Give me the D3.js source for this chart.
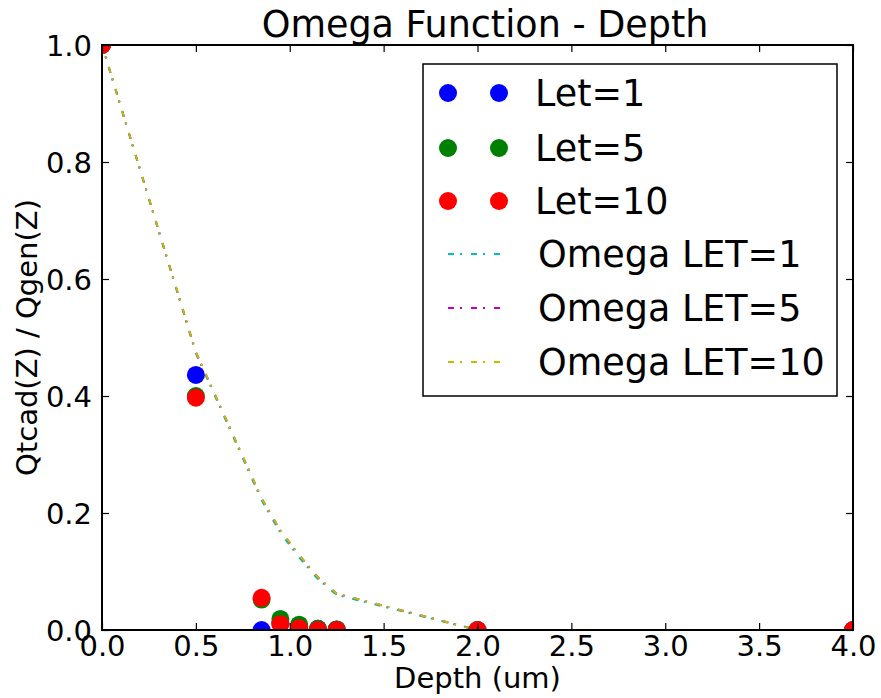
<!DOCTYPE html>
<html>
<head>
<meta charset="utf-8">
<script src="https://cdn.jsdelivr.net/npm/d3@7"></script>
<style>
  html, body { margin: 0; padding: 0; background: #fff; }
  svg text { font-family: "DejaVu Sans", sans-serif; fill: #000; }
</style>
</head>
<body>
<svg id="chart" width="881" height="698"></svg>
<script>
// Depth sample points (um)
const depth = [0, 0.5, 0.85, 0.95, 1.05, 1.15, 1.25, 2.0, 4.0];

// Simulated collected-charge ratio Qtcad(Z)/Qgen(Z) per LET
const let1  = [1.0, 0.436, 0.0,   0.012, 0.006, 0.002, 0.001, 0.0, 0.0];
const let5  = [1.0, 0.400, 0.052, 0.019, 0.009, 0.002, 0.001, 0.0, 0.0];
const let10 = [1.0, 0.397, 0.055, 0.010, 0.003, 0.000, 0.000, 0.0, 0.0];

// Omega model curves per LET
const omega1  = [1.0, 0.473, 0.222, 0.166, 0.124, 0.087, 0.060, 0.0, 0.0];
const omega5  = [1.0, 0.475, 0.225, 0.170, 0.128, 0.090, 0.062, 0.0, 0.0];
const omega10 = [1.0, 0.475, 0.225, 0.170, 0.128, 0.090, 0.062, 0.0, 0.0];

const xTicks = [0, 0.5, 1.0, 1.5, 2.0, 2.5, 3.0, 3.5, 4.0];
const yTicks = [0, 0.2, 0.4, 0.6, 0.8, 1.0];

const pointSeries = [
  { name: "Let=1",  values: let1,  color: "#0000ff" },
  { name: "Let=5",  values: let5,  color: "#008000" },
  { name: "Let=10", values: let10, color: "#ff0000" }
];
const lineSeries = [
  { name: "Omega LET=1",  values: omega1,  color: "#00bfbf" },
  { name: "Omega LET=5",  values: omega5,  color: "#bf00bf" },
  { name: "Omega LET=10", values: omega10, color: "#bfbf00" }
];

const svg = d3.select("#chart");
const plot = { left: 102, right: 853, top: 45, bottom: 630 };

const x = d3.scaleLinear().domain([0, 4]).range([plot.left, plot.right]);
const y = d3.scaleLinear().domain([0, 1]).range([plot.bottom, plot.top]);

svg.append("defs").append("clipPath").attr("id", "plotClip")
  .append("rect")
  .attr("x", plot.left).attr("y", plot.top)
  .attr("width", plot.right - plot.left).attr("height", plot.bottom - plot.top);

const dashStyle = "6,6,2,9";
const R = 9;

// Omega model lines (dash-dot)
const lineGen = d3.line().x((d, i) => x(depth[i])).y(d => y(d));
const dataLayer = svg.append("g").attr("clip-path", "url(#plotClip)");
lineSeries.forEach(s => {
  dataLayer.append("path")
    .attr("d", lineGen(s.values))
    .attr("fill", "none")
    .attr("stroke", s.color)
    .attr("stroke-width", 2)
    .attr("stroke-dasharray", dashStyle);
});

// Simulation points
pointSeries.forEach(s => {
  dataLayer.selectAll(null)
    .data(s.values)
    .enter().append("circle")
    .attr("cx", (d, i) => x(depth[i]))
    .attr("cy", d => y(d))
    .attr("r", R)
    .attr("fill", s.color);
});

// Axes: ticks pointing inward on all four sides
const tickLen = 7;
const axisBottom = d3.axisBottom(x).tickValues(xTicks).tickFormat(d3.format(".1f"))
  .tickSizeInner(-tickLen).tickSizeOuter(0).tickPadding(5);
const axisTop = d3.axisTop(x).tickValues(xTicks).tickFormat("")
  .tickSizeInner(-tickLen).tickSizeOuter(0);
const axisLeft = d3.axisLeft(y).tickValues(yTicks).tickFormat(d3.format(".1f"))
  .tickSizeInner(-tickLen).tickSizeOuter(0).tickPadding(10);
const axisRight = d3.axisRight(y).tickValues(yTicks).tickFormat("")
  .tickSizeInner(-tickLen).tickSizeOuter(0);

function styleAxis(g) {
  g.select(".domain").remove();
  g.selectAll(".tick line").attr("stroke", "#000").attr("stroke-width", 1.2);
  g.selectAll(".tick text")
    .style("font-family", "'DejaVu Sans', sans-serif")
    .style("font-size", "29px").attr("fill", "#000");
}

svg.append("g").attr("transform", `translate(0,${plot.bottom})`).call(axisBottom).call(styleAxis);
svg.append("g").attr("transform", `translate(0,${plot.top})`).call(axisTop).call(styleAxis);
svg.append("g").attr("transform", `translate(${plot.left},0)`).call(axisLeft).call(styleAxis)
  .selectAll(".tick text").attr("dy", "0.36em");
svg.append("g").attr("transform", `translate(${plot.right},0)`).call(axisRight).call(styleAxis);

// Plot frame
svg.append("rect")
  .attr("x", plot.left).attr("y", plot.top)
  .attr("width", plot.right - plot.left).attr("height", plot.bottom - plot.top)
  .attr("fill", "none").attr("stroke", "#000").attr("stroke-width", 2);

// Title and axis labels
svg.append("text")
  .attr("x", 485).attr("y", 37)
  .attr("text-anchor", "middle")
  .style("font-size", "36.5px")
  .text("Omega Function - Depth");

svg.append("text")
  .attr("x", (plot.left + plot.right) / 2).attr("y", 688)
  .attr("text-anchor", "middle")
  .style("font-size", "29px")
  .text("Depth (um)");

svg.append("text")
  .attr("transform", `translate(37,${(plot.top + plot.bottom) / 2}) rotate(-90)`)
  .attr("text-anchor", "middle")
  .style("font-size", "29px")
  .text("Qtcad(Z) / Qgen(Z)");

// Legend
const legend = svg.append("g");
legend.append("rect")
  .attr("x", 423).attr("y", 64)
  .attr("width", 414).attr("height", 332)
  .attr("fill", "#fff").attr("stroke", "#000").attr("stroke-width", 1.5);

const rowY = [93, 148, 201, 254, 308, 362];
pointSeries.forEach((s, i) => {
  [448, 499].forEach(cx => {
    legend.append("circle").attr("cx", cx).attr("cy", rowY[i]).attr("r", R).attr("fill", s.color);
  });
  legend.append("text")
    .attr("x", 535).attr("y", rowY[i] + 13)
    .style("font-size", "36.5px")
    .text(s.name);
});
lineSeries.forEach((s, j) => {
  const yy = rowY[3 + j];
  legend.append("line")
    .attr("x1", 448).attr("x2", 501).attr("y1", yy).attr("y2", yy)
    .attr("stroke", s.color).attr("stroke-width", 2)
    .attr("stroke-dasharray", dashStyle);
  legend.append("text")
    .attr("x", 538).attr("y", yy + 13)
    .style("font-size", "36.5px")
    .text(s.name);
});
</script>
</body>
</html>
